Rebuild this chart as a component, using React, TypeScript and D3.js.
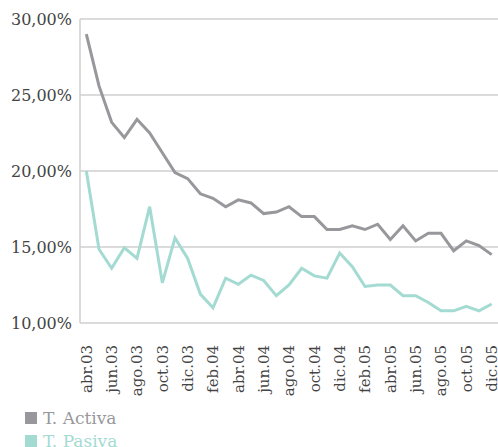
import * as d3 from "d3";

const months = [
  "abr.03", "may.03", "jun.03", "jul.03", "ago.03", "sep.03", "oct.03", "nov.03", "dic.03",
  "ene.04", "feb.04", "mar.04", "abr.04", "may.04", "jun.04", "jul.04", "ago.04", "sep.04",
  "oct.04", "nov.04", "dic.04", "ene.05", "feb.05", "mar.05", "abr.05", "may.05", "jun.05",
  "jul.05", "ago.05", "sep.05", "oct.05", "nov.05", "dic.05",
];

const activa = [
  29.0, 25.6, 23.2, 22.2, 23.4, 22.5, 21.2, 19.9, 19.5,
  18.5, 18.2, 17.65, 18.1, 17.9, 17.2, 17.3, 17.65, 17.0,
  17.0, 16.15, 16.15, 16.4, 16.15, 16.5, 15.5, 16.4, 15.4,
  15.9, 15.9, 14.75, 15.4, 15.1, 14.5,
];

const pasiva = [
  20.0, 14.85, 13.6, 14.95, 14.25, 17.65, 12.65, 15.6, 14.25,
  11.9, 11.0, 12.95, 12.55, 13.15, 12.8, 11.8, 12.5, 13.6,
  13.1, 12.95, 14.6, 13.7, 12.4, 12.5, 12.5, 11.8, 11.8,
  11.35, 10.8, 10.8, 11.1, 10.8, 11.25,
];

const yTicks = [10, 15, 20, 25, 30];

const series = [
  { name: "T. Activa", values: activa, color: "#98989c" },
  { name: "T. Pasiva", values: pasiva, color: "#a3dbd2" },
];

const W = 498;
const H = 447;
const font = "'DejaVu Serif', serif";

export default function App() {
  const left = 80;
  const right = 498;
  const top = 19;
  const bottom = 323;

  const x = d3.scaleBand<string>().domain(months).range([left, right]);
  const y = d3.scaleLinear().domain([10, 30]).range([bottom, top]);
  const cx = (i: number) => (x(months[i]) ?? 0) + x.bandwidth() / 2;

  const line = d3
    .line<number>()
    .x((_, i) => cx(i))
    .y((d) => y(d));

  const fmt = (v: number) => v.toFixed(2).replace(".", ",") + "%";

  return (
    <div style={{ position: "absolute", left: 0, top: 0 }}>
      <svg width={W} height={H} style={{ display: "block", background: "#fff" }}>
        {yTicks.map((t) => (
          <g key={t}>
            <line x1={left} x2={right} y1={y(t)} y2={y(t)} stroke="#cfcfcf" strokeWidth={1.5} />
            <text
              x={72}
              y={y(t)}
              dy="0.36em"
              textAnchor="end"
              fontFamily={font}
              fontSize={16}
              fill="#444"
            >
              {fmt(t)}
            </text>
          </g>
        ))}
        <line x1={left} x2={left} y1={top} y2={bottom} stroke="#cfcfcf" strokeWidth={1.5} />

        {months.map((m, i) =>
          i % 2 === 0 ? (
            <text
              key={m}
              transform={`translate(${cx(i)},345) rotate(-90)`}
              textAnchor="end"
              dy="0.36em"
              fontFamily={font}
              fontSize={15}
              fill="#444"
            >
              {m}
            </text>
          ) : null
        )}

        {series.map((s) => (
          <path
            key={s.name}
            d={line(s.values) ?? ""}
            fill="none"
            stroke={s.color}
            strokeWidth={3}
          />
        ))}

        {series.map((s, i) => (
          <g key={s.name} transform={`translate(25,${412 + i * 23})`}>
            <rect width={12} height={12} fill={s.color} />
            <text x={18} y={11.5} fontFamily={font} fontSize={17} fill={s.color}>
              {s.name}
            </text>
          </g>
        ))}
      </svg>
    </div>
  );
}
